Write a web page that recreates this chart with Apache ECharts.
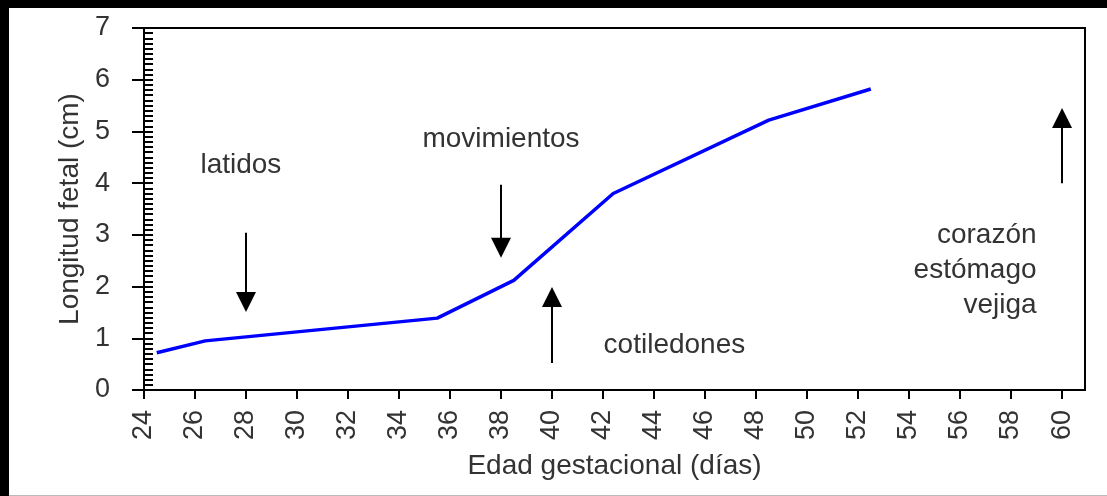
<!DOCTYPE html>
<html>
<head>
<meta charset="utf-8">
<script src="https://cdn.jsdelivr.net/npm/echarts@6/dist/echarts.min.js"></script>
<style>
  html, body { margin: 0; padding: 0; background: #000; }
  #wrap { position: relative; width: 1107px; height: 496px; background: #000; overflow: hidden; }
  #chart { position: absolute; left: 9px; top: 8px; width: 1098px; height: 487px; background: #fff; border-bottom: 1px solid #bbb; }
</style>
</head>
<body>
<div id="wrap"><div id="chart"></div></div>
<script>
// growth curve
const days = [24.5, 26.4, 35.5, 38.5, 42.4, 48.5, 52.5];
const lengthCm = [0.72, 0.95, 1.39, 2.12, 3.8, 5.22, 5.82];

const xTicks = [24, 26, 28, 30, 32, 34, 36, 38, 40, 42, 44, 46, 48, 50, 52, 54, 56, 58, 60];
const yTicks = [0, 1, 2, 3, 4, 5, 6, 7];

// annotations: text and where it sits (day, cm)
const noteText = ['latidos', 'movimientos', 'cotiledones', 'corazón\nestómago\nvejiga'];
const noteDay = [27.8, 38.0, 44.8, 59.0];
const noteCm = [4.35, 4.84, 0.87, 2.32];

// arrows: day, start cm, end cm (head centre)
const arrowDay = [28, 38, 40, 60];
const arrowFrom = [3.04, 3.97, 0.52, 4.0];
const arrowTo = [1.70, 2.75, 1.80, 5.26];

const FONT = "'Liberation Sans', Arial, sans-serif";
const TXT = '#333';

const chart = echarts.init(document.getElementById('chart'), null, { renderer: 'canvas' });

const linePoints = days.map((d, i) => [d, lengthCm[i]]);
const arrows = arrowDay.map((d, i) => [{ coord: [d, arrowFrom[i]] }, { coord: [d, arrowTo[i]] }]);
const notes = noteText.map((t, i) => ({
  value: [noteDay[i], noteCm[i]],
  label: { formatter: t, align: i === 3 ? 'right' : 'center' }
}));

chart.setOption({
  animation: false,
  textStyle: { fontFamily: FONT },
  grid: {
    left: 135, top: 20, right: 22, bottom: 105,
    show: true, borderColor: '#000', borderWidth: 2, backgroundColor: 'transparent'
  },
  xAxis: {
    type: 'value',
    min: 24, max: 60.9,
    name: 'Edad gestacional (días)',
    nameLocation: 'middle',
    nameGap: 62,
    nameTextStyle: { fontSize: 28, color: TXT, fontFamily: FONT },
    axisLine: { lineStyle: { color: '#000', width: 2 } },
    axisTick: { show: true, length: 9, lineStyle: { color: '#000', width: 2 }, customValues: xTicks },
    axisLabel: { rotate: 90, margin: 20, fontSize: 27, color: TXT, fontFamily: FONT, customValues: xTicks },
    splitLine: { show: false }
  },
  yAxis: [
    {
      type: 'value',
      position: 'left',
      min: 0, max: 7, interval: 1,
      name: 'Longitud fetal (cm)',
      nameLocation: 'middle',
      nameGap: 58,
      nameRotate: 90,
      nameTextStyle: { fontSize: 28, color: TXT, fontFamily: FONT },
      axisLine: { show: true, lineStyle: { color: '#000', width: 2 } },
      axisTick: { show: true, inside: true, length: 9, lineStyle: { color: '#000', width: 2 } },
      minorTick: { show: true, splitNumber: 10, length: 9, lineStyle: { color: '#000', width: 2 } },
      axisLabel: { margin: 34, fontSize: 27, color: TXT, fontFamily: FONT, customValues: yTicks },
      splitLine: { show: false }
    },
    {
      // outer half of the major y ticks
      type: 'value',
      position: 'right',
      offset: -941,
      min: 0, max: 7, interval: 1,
      axisLine: { show: false },
      axisTick: { show: true, inside: true, length: 12, lineStyle: { color: '#000', width: 2 } },
      axisLabel: { show: false },
      splitLine: { show: false }
    }
  ],
  series: [
    {
      type: 'line',
      data: linePoints,
      showSymbol: false,
      symbol: 'none',
      lineStyle: { color: '#0000ff', width: 3.5 },
      silent: true,
      markLine: {
        silent: true,
        symbol: ['none', 'triangle'],
        symbolSize: [20, 20],
        label: { show: false },
        lineStyle: { color: '#000', width: 2, type: 'solid' },
        itemStyle: { color: '#000' },
        emphasis: { disabled: true },
        data: arrows
      }
    },
    {
      type: 'scatter',
      data: notes,
      symbolSize: 0,
      silent: true,
      itemStyle: { opacity: 1 },
      label: {
        show: true,
        position: 'inside',
        fontSize: 28,
        lineHeight: 35,
        color: TXT,
        opacity: 1,
        fontFamily: FONT
      }
    }
  ]
});
</script>
</body>
</html>
